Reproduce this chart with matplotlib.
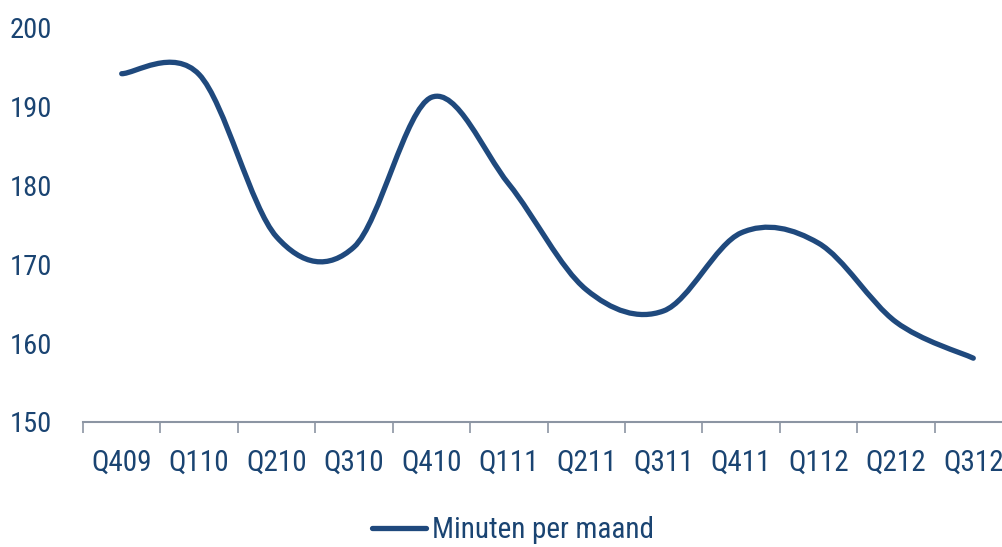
import matplotlib
matplotlib.use("Agg")
import matplotlib.pyplot as plt
from matplotlib.path import Path
from matplotlib.patches import PathPatch
from matplotlib.lines import Line2D
import numpy as np

categories = ["Q409", "Q110", "Q210", "Q310", "Q410", "Q111",
              "Q211", "Q311", "Q411", "Q112", "Q212", "Q312"]
minuten = [194.2, 194.1, 173.5, 172.2, 191.2, 180.2,
           166.8, 164.1, 174.0, 172.7, 162.7, 158.1]
y_ticks = [150, 160, 170, 180, 190, 200]
series_name = "Minuten per maand"

LINE = "#1F497D"
TEXT = "#1A4472"
AXIS = "#8C95A3"
plt.rcParams['font.family'] = ['Roboto Condensed', 'Archivo Narrow', 'DejaVu Sans']

fig = plt.figure(figsize=(10.02, 5.47), dpi=100)
ax = fig.add_axes([83/1002, 1-422/547, (1012-83)/1002, (422-28)/547])

# Smoothed line (Catmull-Rom as cubic Bezier segments)
x = np.arange(len(categories), dtype=float)
y = np.array(minuten, dtype=float)
n = len(x)
verts = [(x[0], y[0])]
codes = [Path.MOVETO]
for i in range(n - 1):
    p0 = np.array([x[max(i-1, 0)], y[max(i-1, 0)]])
    p1 = np.array([x[i], y[i]])
    p2 = np.array([x[i+1], y[i+1]])
    p3 = np.array([x[min(i+2, n-1)], y[min(i+2, n-1)]])
    c1 = p1 + (p2 - p0) / 6
    c2 = p2 - (p3 - p1) / 6
    verts += [tuple(c1), tuple(c2), tuple(p2)]
    codes += [Path.CURVE4] * 3
patch = PathPatch(Path(verts, codes), facecolor="none", edgecolor=LINE,
                  lw=3.8, capstyle="round", joinstyle="round")
ax.add_patch(patch)

ax.set_xlim(-0.5, n - 0.5)
ax.set_ylim(150, 200)
ax.set_yticks(y_ticks)
ax.set_xticks(x)
ax.set_xticklabels(categories)
ax.set_xticks(np.arange(-0.5, n, 1.0), minor=True)

for s in ["top", "right", "left"]:
    ax.spines[s].set_visible(False)
ax.spines["bottom"].set_color(AXIS)
ax.spines["bottom"].set_linewidth(1.5)
ax.tick_params(axis="x", which="major", length=0, pad=19, labelsize=21, labelcolor=TEXT)
ax.tick_params(axis="x", which="minor", length=8, width=1.2, color=AXIS, direction="out")
ax.tick_params(axis="y", length=0, pad=22, labelsize=20.5, labelcolor=TEXT)
ax.set_facecolor("none")

handle = Line2D([], [], color=LINE, lw=3.8, solid_capstyle="round")
fig.legend([handle], [series_name], loc="center", bbox_to_anchor=(513/1002, 1-530/547),
           frameon=False, fontsize=21, labelcolor=TEXT, handlelength=1.85,
           handletextpad=0.2)

fig.savefig("out.png", dpi=100)
